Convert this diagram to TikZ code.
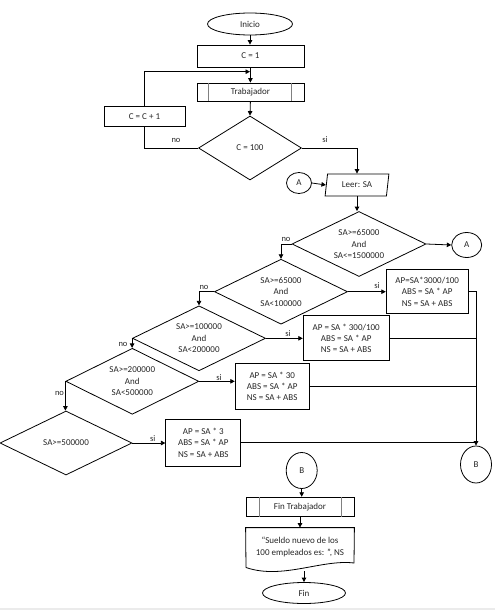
\documentclass[tikz,border=0pt]{standalone}
\usepackage{fontspec}
\setmainfont{Carlito}
\usetikzlibrary{shapes.geometric,arrows.meta}
\begin{document}
\begin{tikzpicture}[x=1pt,y=-1pt,
  base/.style={draw=black, line width=0.8pt, inner sep=0pt, align=center,
    font=\fontsize{9}{11.4}\selectfont, text=black!85},
  term/.style={base, ellipse},
  proc/.style={base, rectangle},
  dec/.style={base, diamond, aspect=2},
  io/.style={base, trapezium, trapezium left angle=78, trapezium right angle=102,
    trapezium stretches=true},
  conncirc/.style={base, ellipse},
  docnode/.style={base, draw=none, rectangle},
  lbl/.style={inner sep=0pt, font=\fontsize{8.5}{10}\selectfont, text=black!85},
  arr/.style={line width=0.8pt, -{Triangle[length=4.5pt,width=4.5pt]}},
  ln/.style={line width=0.8pt},
  subline/.style={draw=black!50, line width=1.5pt}
]
\useasboundingbox (0,0) rectangle (495,610);
\fill[black!8] (0,607.5) rectangle (495,610);

% top part
\node[term, minimum width=85pt, minimum height=22pt] (ini) at (250,24) {Inicio};
\node[proc, minimum width=107pt, minimum height=22pt] (c1) at (250.4,56) {C = 1};
\node[proc, minimum width=107pt, minimum height=18pt] (trab) at (250.4,92) {Trabajador};
\node[proc, minimum width=81pt, minimum height=20pt] (inc) at (144.5,116.7) {C = C + 1};
\node[dec, minimum width=103pt, minimum height=64pt] (d0) at (250,148) {C = 100};
\node[conncirc, minimum width=25pt, minimum height=21pt] (a1) at (299,183) {A};
\node[io, minimum width=64pt, minimum height=22pt] (leer) at (357,185) {Leer: SA};
\coordinate (j1) at (250,71.7);

\draw[subline] ([xshift=12pt]trab.north west) -- ([xshift=12pt]trab.south west);
\draw[subline] ([xshift=-13pt]trab.north east) -- ([xshift=-13pt]trab.south east);

\draw[arr] (ini.south) -- (ini.south |- c1.north);
\draw[arr] (c1.south) -- (trab.north);
\draw[arr] (inc.north) |- (j1);
\draw[arr] (trab.south) -- (d0.north);
\draw[ln] (d0.west) -| (inc.south);
\draw[arr] (d0.east) -| (leer.north);
\draw[arr] (a1.east) -- (leer.west);
\node[lbl] (l0n) at (176,140) {no};
\node[lbl] (l0s) at (325,140) {si};

% decisions
\node[dec, minimum width=134pt, minimum height=65pt] (d1) at (359,244) {SA>=65000\\And\\SA<=1500000};
\node[conncirc, minimum width=30pt, minimum height=25pt] (a2) at (466.7,245) {A};
\node[dec, minimum width=133pt, minimum height=65pt] (d2) at (281,291.7) {SA>=65000\\And\\SA<100000};
\node[dec, minimum width=133pt, minimum height=65pt] (d3) at (199,338.3) {SA>=100000\\And\\SA<200000};
\node[dec, minimum width=133pt, minimum height=66pt] (d4) at (132.3,381.3) {SA>=200000\\And\\SA<500000};
\node[dec, minimum width=132pt, minimum height=64pt] (d5) at (66,443) {SA>=500000};

\node[proc, minimum width=82pt, minimum height=44pt] (b1) at (427.2,291.5) {AP=SA*3000/100\\ABS = SA * AP\\NS = SA + ABS};
\node[proc, minimum width=86pt, minimum height=45pt] (b2) at (346.2,338.3) {AP = SA * 300/100\\ABS = SA * AP\\NS = SA + ABS};
\node[proc, minimum width=74pt, minimum height=46pt] (b3) at (272.2,386.3) {AP = SA * 30\\ABS = SA * AP\\NS = SA + ABS};
\node[proc, minimum width=75pt, minimum height=47pt] (b4) at (203.3,442.7) {AP = SA * 3\\ABS = SA * AP\\NS = SA + ABS};

\node[conncirc, minimum width=31pt, minimum height=37pt] (bR) at (476,464.5) {B};

\draw[arr] (leer.south) -- (leer.south |- d1.north);
\draw[arr] (d1.east) -- (a2.west);
\draw[arr] (d1.west) -| (d2.north);
\draw[arr] (d2.east) -- (d2.east -| b1.west);
\draw[arr] (d2.west) -| (d3.north);
\draw[arr] (d3.east) -- (d3.east -| b2.west);
\draw[arr] (d3.west) -- (d3.west |- d4.north);
\draw[arr] (d4.east) -- (d4.east -| b3.west);
\draw[arr] (d4.west) -- (d4.west |- d5.north);
\draw[arr] (d5.east) -- (d5.east -| b4.west);

\draw[arr] (b1.east) -| (bR.north);
\draw[ln] (b2.east) -- (b2.east -| bR.north);
\draw[ln] (b3.east) -- (b3.east -| bR.north);
\draw[ln] (b4.east) -- (b4.east -| bR.north);

\node[lbl] (l1n) at (286,239.5) {no};
\node[lbl] (l2s) at (377,286) {si};
\node[lbl] (l2n) at (204,287.5) {no};
\node[lbl] (l3s) at (288,334) {si};
\node[lbl] (l3n) at (123,344.5) {no};
\node[lbl] (l4s) at (219,377.7) {si};
\node[lbl] (l4n) at (59.5,393.5) {no};
\node[lbl] (l5s) at (152.7,439) {si};

% bottom part
\node[conncirc, minimum width=31pt, minimum height=36pt] (bL) at (301.7,470.5) {B};
\node[proc, minimum width=108pt, minimum height=19pt] (ftrab) at (300,506.7) {Fin Trabajador};
\draw[subline] ([xshift=14pt]ftrab.north west) -- ([xshift=14pt]ftrab.south west);
\draw[subline] ([xshift=-13pt]ftrab.north east) -- ([xshift=-13pt]ftrab.south east);
\node[docnode, minimum width=108pt, minimum height=38pt] (doc) at (300,547) {“Sueldo nuevo de los\\100 empleados es: ”, NS};
\coordinate (dbl) at (246,567.5);
\coordinate (dbr) at (354,563);
\draw[ln] (dbl) -- (doc.north west) -- (doc.north east) -- (dbr)
  .. controls (322,559) and (282,580) .. (dbl);
\coordinate (docb) at (304,571);
\node[term, minimum width=83pt, minimum height=21pt] (fin) at (304,593) {Fin};

\draw[arr] (bL.south) -- (bL.south |- ftrab.north);
\draw[arr] (ftrab.south) -- (doc.north -| ftrab.south);
\draw[arr] (docb) -- (fin.north);
\end{tikzpicture}
\end{document}
